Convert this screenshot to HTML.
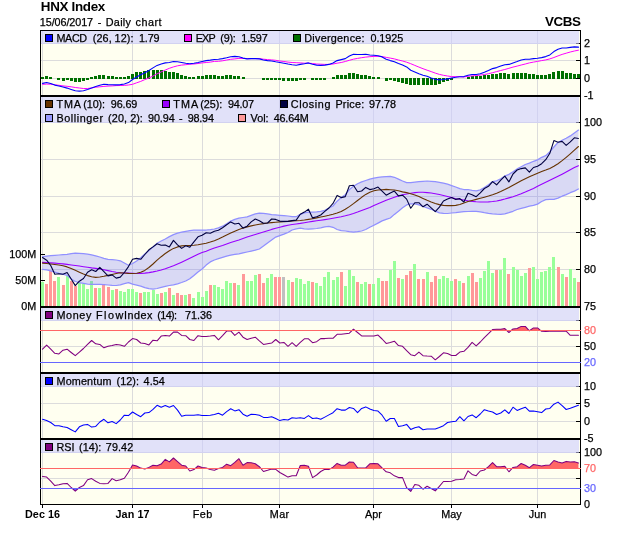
<!DOCTYPE html>
<html><head><meta charset="utf-8"><title>HNX Index</title>
<style>html,body{margin:0;padding:0;background:#fff}svg{display:block;will-change:transform}text{font-family:"Liberation Sans", Arial, sans-serif;stroke-width:0.25px}</style></head><body>
<svg width="620" height="535" viewBox="0 0 620 535">
<rect width="620" height="535" fill="#fff"/>
<g shape-rendering="crispEdges">
<rect x="40" y="30" width="541" height="66" fill="#fffff0"/>
<rect x="41" y="60" width="539" height="1" fill="#dcdcdc"/>
<rect x="41" y="78" width="539" height="1" fill="#dcdcdc"/>
<rect x="41" y="43" width="539" height="1" fill="#dcdcdc"/>
<rect x="42" y="31" width="1" height="64" fill="#dcdcdc"/>
<rect x="132" y="31" width="1" height="64" fill="#dcdcdc"/>
<rect x="202" y="31" width="1" height="64" fill="#dcdcdc"/>
<rect x="279" y="31" width="1" height="64" fill="#dcdcdc"/>
<rect x="373" y="31" width="1" height="64" fill="#dcdcdc"/>
<rect x="451" y="31" width="1" height="64" fill="#dcdcdc"/>
<rect x="537" y="31" width="1" height="64" fill="#dcdcdc"/>
<rect x="40" y="96" width="541" height="211" fill="#fffff0"/>
<rect x="41" y="159" width="539" height="1" fill="#dcdcdc"/>
<rect x="41" y="196" width="539" height="1" fill="#dcdcdc"/>
<rect x="41" y="232" width="539" height="1" fill="#dcdcdc"/>
<rect x="41" y="269" width="539" height="1" fill="#dcdcdc"/>
<rect x="41" y="122" width="539" height="1" fill="#dcdcdc"/>
<rect x="42" y="97" width="1" height="209" fill="#dcdcdc"/>
<rect x="132" y="97" width="1" height="209" fill="#dcdcdc"/>
<rect x="202" y="97" width="1" height="209" fill="#dcdcdc"/>
<rect x="279" y="97" width="1" height="209" fill="#dcdcdc"/>
<rect x="373" y="97" width="1" height="209" fill="#dcdcdc"/>
<rect x="451" y="97" width="1" height="209" fill="#dcdcdc"/>
<rect x="537" y="97" width="1" height="209" fill="#dcdcdc"/>
<rect x="40" y="307" width="541" height="66" fill="#fffff0"/>
<rect x="41" y="346" width="539" height="1" fill="#dcdcdc"/>
<rect x="41" y="320" width="539" height="1" fill="#dcdcdc"/>
<rect x="42" y="308" width="1" height="64" fill="#dcdcdc"/>
<rect x="132" y="308" width="1" height="64" fill="#dcdcdc"/>
<rect x="202" y="308" width="1" height="64" fill="#dcdcdc"/>
<rect x="279" y="308" width="1" height="64" fill="#dcdcdc"/>
<rect x="373" y="308" width="1" height="64" fill="#dcdcdc"/>
<rect x="451" y="308" width="1" height="64" fill="#dcdcdc"/>
<rect x="537" y="308" width="1" height="64" fill="#dcdcdc"/>
<rect x="40" y="373" width="541" height="66" fill="#fffff0"/>
<rect x="41" y="403" width="539" height="1" fill="#dcdcdc"/>
<rect x="41" y="421" width="539" height="1" fill="#dcdcdc"/>
<rect x="41" y="386" width="539" height="1" fill="#dcdcdc"/>
<rect x="42" y="374" width="1" height="64" fill="#dcdcdc"/>
<rect x="132" y="374" width="1" height="64" fill="#dcdcdc"/>
<rect x="202" y="374" width="1" height="64" fill="#dcdcdc"/>
<rect x="279" y="374" width="1" height="64" fill="#dcdcdc"/>
<rect x="373" y="374" width="1" height="64" fill="#dcdcdc"/>
<rect x="451" y="374" width="1" height="64" fill="#dcdcdc"/>
<rect x="537" y="374" width="1" height="64" fill="#dcdcdc"/>
<rect x="40" y="439" width="541" height="66" fill="#fffff0"/>
<rect x="41" y="478" width="539" height="1" fill="#dcdcdc"/>
<rect x="41" y="452" width="539" height="1" fill="#dcdcdc"/>
<rect x="42" y="440" width="1" height="64" fill="#dcdcdc"/>
<rect x="132" y="440" width="1" height="64" fill="#dcdcdc"/>
<rect x="202" y="440" width="1" height="64" fill="#dcdcdc"/>
<rect x="279" y="440" width="1" height="64" fill="#dcdcdc"/>
<rect x="373" y="440" width="1" height="64" fill="#dcdcdc"/>
<rect x="451" y="440" width="1" height="64" fill="#dcdcdc"/>
<rect x="537" y="440" width="1" height="64" fill="#dcdcdc"/>
</g>
<g shape-rendering="crispEdges" fill="#007000">
<rect x="41" y="77" width="3" height="2"/>
<rect x="45" y="76" width="3" height="3"/>
<rect x="49" y="77" width="3" height="2"/>
<rect x="57" y="78" width="3" height="2"/>
<rect x="62" y="78" width="3" height="3"/>
<rect x="66" y="78" width="3" height="2"/>
<rect x="70" y="78" width="3" height="3"/>
<rect x="74" y="78" width="3" height="4"/>
<rect x="78" y="78" width="3" height="4"/>
<rect x="82" y="78" width="3" height="3"/>
<rect x="86" y="78" width="3" height="2"/>
<rect x="90" y="77" width="3" height="2"/>
<rect x="94" y="76" width="3" height="3"/>
<rect x="98" y="75" width="3" height="4"/>
<rect x="102" y="75" width="3" height="4"/>
<rect x="107" y="76" width="3" height="3"/>
<rect x="111" y="76" width="3" height="3"/>
<rect x="115" y="77" width="3" height="2"/>
<rect x="119" y="77" width="3" height="2"/>
<rect x="123" y="77" width="3" height="2"/>
<rect x="127" y="76" width="3" height="3"/>
<rect x="131" y="74" width="3" height="5"/>
<rect x="135" y="72" width="3" height="7"/>
<rect x="139" y="72" width="3" height="7"/>
<rect x="143" y="71" width="3" height="8"/>
<rect x="147" y="70" width="3" height="9"/>
<rect x="152" y="70" width="3" height="9"/>
<rect x="156" y="70" width="3" height="9"/>
<rect x="160" y="70" width="3" height="9"/>
<rect x="164" y="71" width="3" height="8"/>
<rect x="168" y="72" width="3" height="7"/>
<rect x="172" y="72" width="3" height="7"/>
<rect x="176" y="73" width="3" height="6"/>
<rect x="180" y="75" width="3" height="4"/>
<rect x="184" y="76" width="3" height="3"/>
<rect x="188" y="77" width="3" height="2"/>
<rect x="192" y="77" width="3" height="2"/>
<rect x="197" y="76" width="3" height="3"/>
<rect x="201" y="76" width="3" height="3"/>
<rect x="205" y="75" width="3" height="4"/>
<rect x="209" y="75" width="3" height="4"/>
<rect x="213" y="75" width="3" height="4"/>
<rect x="217" y="76" width="3" height="3"/>
<rect x="221" y="76" width="3" height="3"/>
<rect x="225" y="75" width="3" height="4"/>
<rect x="229" y="75" width="3" height="4"/>
<rect x="233" y="76" width="3" height="3"/>
<rect x="237" y="76" width="3" height="3"/>
<rect x="242" y="77" width="3" height="2"/>
<rect x="262" y="78" width="3" height="2"/>
<rect x="266" y="78" width="3" height="2"/>
<rect x="270" y="78" width="3" height="2"/>
<rect x="274" y="78" width="3" height="2"/>
<rect x="278" y="78" width="3" height="2"/>
<rect x="282" y="78" width="3" height="3"/>
<rect x="287" y="78" width="3" height="3"/>
<rect x="291" y="78" width="3" height="3"/>
<rect x="295" y="78" width="3" height="3"/>
<rect x="299" y="78" width="3" height="2"/>
<rect x="303" y="78" width="3" height="2"/>
<rect x="311" y="78" width="3" height="2"/>
<rect x="315" y="78" width="3" height="2"/>
<rect x="319" y="78" width="3" height="2"/>
<rect x="323" y="78" width="3" height="2"/>
<rect x="332" y="77" width="3" height="2"/>
<rect x="336" y="75" width="3" height="4"/>
<rect x="340" y="75" width="3" height="4"/>
<rect x="344" y="75" width="3" height="4"/>
<rect x="348" y="73" width="3" height="6"/>
<rect x="352" y="73" width="3" height="6"/>
<rect x="356" y="74" width="3" height="5"/>
<rect x="360" y="75" width="3" height="4"/>
<rect x="364" y="75" width="3" height="4"/>
<rect x="368" y="76" width="3" height="3"/>
<rect x="372" y="77" width="3" height="2"/>
<rect x="377" y="77" width="3" height="2"/>
<rect x="385" y="78" width="3" height="3"/>
<rect x="389" y="78" width="3" height="2"/>
<rect x="393" y="78" width="3" height="3"/>
<rect x="397" y="78" width="3" height="4"/>
<rect x="401" y="78" width="3" height="5"/>
<rect x="405" y="78" width="3" height="6"/>
<rect x="409" y="78" width="3" height="7"/>
<rect x="413" y="78" width="3" height="7"/>
<rect x="417" y="78" width="3" height="7"/>
<rect x="422" y="78" width="3" height="7"/>
<rect x="426" y="78" width="3" height="7"/>
<rect x="430" y="78" width="3" height="7"/>
<rect x="434" y="78" width="3" height="7"/>
<rect x="438" y="78" width="3" height="6"/>
<rect x="442" y="78" width="3" height="4"/>
<rect x="446" y="78" width="3" height="3"/>
<rect x="450" y="78" width="3" height="2"/>
<rect x="467" y="77" width="3" height="2"/>
<rect x="471" y="76" width="3" height="3"/>
<rect x="475" y="76" width="3" height="3"/>
<rect x="479" y="76" width="3" height="3"/>
<rect x="483" y="75" width="3" height="4"/>
<rect x="487" y="75" width="3" height="4"/>
<rect x="491" y="74" width="3" height="5"/>
<rect x="495" y="74" width="3" height="5"/>
<rect x="499" y="73" width="3" height="6"/>
<rect x="503" y="73" width="3" height="6"/>
<rect x="507" y="74" width="3" height="5"/>
<rect x="512" y="73" width="3" height="6"/>
<rect x="516" y="73" width="3" height="6"/>
<rect x="520" y="73" width="3" height="6"/>
<rect x="524" y="73" width="3" height="6"/>
<rect x="528" y="74" width="3" height="5"/>
<rect x="532" y="74" width="3" height="5"/>
<rect x="536" y="75" width="3" height="4"/>
<rect x="540" y="75" width="3" height="4"/>
<rect x="544" y="75" width="3" height="4"/>
<rect x="548" y="74" width="3" height="5"/>
<rect x="552" y="72" width="3" height="7"/>
<rect x="557" y="71" width="3" height="8"/>
<rect x="561" y="71" width="3" height="8"/>
<rect x="565" y="73" width="3" height="6"/>
<rect x="569" y="73" width="3" height="6"/>
<rect x="573" y="74" width="3" height="5"/>
<rect x="577" y="74" width="3" height="5"/>
</g>
<polyline points="42.55,84.3 46.64,84.1 50.73,84.2 54.82,84.8 58.91,85.3 63,85.9 67.1,86.3 71.19,86.8 75.28,87.5 79.37,88 83.46,88.5 87.55,88.5 91.64,87.9 95.73,87.2 99.82,86.8 103.91,86.4 108,86.1 112.1,85.9 116.19,85.6 120.28,85.5 124.37,85.4 128.46,85 132.55,84.3 136.64,82.8 140.73,81.4 144.82,79.6 148.91,78 153,76 157.1,73.8 161.19,71.9 165.28,70 169.37,68.3 173.46,66.9 177.55,65.8 181.64,65.1 185.73,64.7 189.82,64.2 193.91,64 198,63.5 202.1,62.9 206.19,62.5 210.28,62.1 214.37,61.4 218.46,61.3 222.55,60.8 226.64,60 230.73,59.3 234.82,58.9 238.91,58.4 243,58.4 247.1,58.6 251.19,58.6 255.28,58.6 259.37,58.6 263.46,59.2 267.55,59.6 271.64,59.9 275.73,60.3 279.82,61 283.91,61.5 288,62.1 292.1,62.5 296.19,62.7 300.28,62.9 304.37,63.2 308.46,63.2 312.55,63.5 316.64,64 320.73,64.2 324.82,64.4 328.91,64.4 333,64 337.1,63.2 341.19,62.5 345.28,61.5 349.37,60.3 353.46,59.2 357.55,58.4 361.64,57.7 365.73,57.1 369.82,56.7 373.91,56.4 378,56.3 382.1,56.5 386.19,57.4 390.28,58.1 394.37,58.9 398.46,60 402.55,61 406.64,62.2 410.73,63.7 414.82,65.4 418.91,67.1 423,68.7 427.1,70.2 431.19,71.6 435.28,73.1 439.37,74.4 443.46,75.3 447.55,76 451.64,76.6 455.73,76.7 459.82,76.7 463.91,77 468,76.3 472.1,75.9 476.19,75.6 480.28,75.1 484.37,74.5 488.46,73.7 492.55,72.7 496.64,71.6 500.73,70.5 504.82,69.5 508.91,68.3 513,67.1 517.1,66.1 521.19,65 525.28,64 529.37,62.9 533.46,62.1 537.55,61.4 541.64,60.6 545.73,59.9 549.82,58.9 553.91,57.5 558,55.9 562.1,54.4 566.19,53.2 570.28,52 574.37,51 578.46,50.2" fill="none" stroke="#ff00ff" stroke-width="1.0" stroke-linejoin="round" stroke-linecap="round" />
<polyline points="42.55,83.4 46.64,82.5 50.73,83.5 54.82,85.1 58.91,86 63,87 67.1,88.1 71.19,89.4 75.28,90.8 79.37,91.1 83.46,90.7 87.55,89.4 91.64,87.9 95.73,86.5 99.82,85.3 103.91,84.3 108,84.6 112.1,84.8 116.19,84.9 120.28,84.6 124.37,84 128.46,82.6 132.55,79.5 136.64,77 140.73,74.8 144.82,72.7 148.91,70.5 153,67.9 157.1,65.4 161.19,64 165.28,62.9 169.37,62.5 173.46,61.5 177.55,61.8 181.64,62.5 185.73,63.2 189.82,63.7 193.91,63.2 198,62.5 202.1,61.5 206.19,60.6 210.28,60.1 214.37,59.5 218.46,59.2 222.55,58.6 226.64,57.7 230.73,56.7 234.82,56.4 238.91,56.7 243,58.1 247.1,58.9 251.19,58.6 255.28,58.6 259.37,58.9 263.46,60 267.55,60.6 271.64,61 275.73,61.8 279.82,62.5 283.91,63.2 288,64 292.1,64.7 296.19,65.2 300.28,64.4 304.37,63.7 308.46,62.9 312.55,64.2 316.64,65.1 320.73,65.4 324.82,65.1 328.91,64.4 333,62.9 337.1,60.6 341.19,59.6 345.28,58.6 349.37,56 353.46,54.2 357.55,54.5 361.64,54.5 365.73,54.2 369.82,55 373.91,55.2 378,55.7 382.1,56.9 386.19,59.2 390.28,60.6 394.37,61.8 398.46,63.5 402.55,65 406.64,66.9 410.73,70.2 414.82,71.9 418.91,73.7 423,75.3 427.1,76.3 431.19,78 435.28,79.2 439.37,79.9 443.46,79.5 447.55,78.9 451.64,78 455.73,77.3 459.82,76.7 463.91,76.6 468,75.3 472.1,74.5 476.19,74.5 480.28,73.7 484.37,72.2 488.46,70.5 492.55,68.6 496.64,67.6 500.73,66.1 504.82,64.7 508.91,64.4 513,62.9 517.1,61.5 521.19,60 525.28,59.2 529.37,59.2 533.46,58.6 537.55,58.3 541.64,57.6 545.73,56.6 549.82,54.9 553.91,51.6 558,49.3 562.1,48 566.19,48 570.28,47.4 574.37,46.9 578.46,47.1" fill="none" stroke="#0000ff" stroke-width="1.1" stroke-linejoin="round" stroke-linecap="round" />
<g shape-rendering="crispEdges">
<rect x="41" y="282" width="3" height="24" fill="#99ff99"/>
<rect x="45" y="284" width="3" height="22" fill="#ff9999"/>
<rect x="49" y="271" width="3" height="35" fill="#ff9999"/>
<rect x="53" y="281" width="3" height="25" fill="#ff9999"/>
<rect x="57" y="277" width="3" height="29" fill="#99ff99"/>
<rect x="62" y="285" width="3" height="21" fill="#ff9999"/>
<rect x="66" y="276" width="3" height="30" fill="#99ff99"/>
<rect x="70" y="281" width="3" height="25" fill="#ff9999"/>
<rect x="74" y="286" width="3" height="20" fill="#ff9999"/>
<rect x="78" y="283" width="3" height="23" fill="#99ff99"/>
<rect x="82" y="284" width="3" height="22" fill="#99ff99"/>
<rect x="86" y="289" width="3" height="17" fill="#99ff99"/>
<rect x="90" y="281" width="3" height="25" fill="#99ff99"/>
<rect x="94" y="288" width="3" height="18" fill="#ff9999"/>
<rect x="98" y="288" width="3" height="18" fill="#99ff99"/>
<rect x="102" y="284" width="3" height="22" fill="#ff9999"/>
<rect x="107" y="287" width="3" height="19" fill="#ff9999"/>
<rect x="111" y="290" width="3" height="16" fill="#99ff99"/>
<rect x="115" y="289" width="3" height="17" fill="#ff9999"/>
<rect x="119" y="291" width="3" height="15" fill="#99ff99"/>
<rect x="123" y="292" width="3" height="14" fill="#99ff99"/>
<rect x="127" y="289" width="3" height="17" fill="#99ff99"/>
<rect x="131" y="289" width="3" height="17" fill="#99ff99"/>
<rect x="135" y="292" width="3" height="14" fill="#99ff99"/>
<rect x="139" y="293" width="3" height="13" fill="#ff9999"/>
<rect x="143" y="292" width="3" height="14" fill="#99ff99"/>
<rect x="147" y="292" width="3" height="14" fill="#99ff99"/>
<rect x="152" y="290" width="3" height="16" fill="#99ff99"/>
<rect x="156" y="294" width="3" height="12" fill="#99ff99"/>
<rect x="160" y="293" width="3" height="13" fill="#ff9999"/>
<rect x="164" y="292" width="3" height="14" fill="#99ff99"/>
<rect x="168" y="288" width="3" height="18" fill="#ff9999"/>
<rect x="172" y="295" width="3" height="11" fill="#99ff99"/>
<rect x="176" y="293" width="3" height="13" fill="#ff9999"/>
<rect x="180" y="295" width="3" height="11" fill="#ff9999"/>
<rect x="184" y="295" width="3" height="11" fill="#99ff99"/>
<rect x="188" y="294" width="3" height="12" fill="#ff9999"/>
<rect x="192" y="298" width="3" height="8" fill="#99ff99"/>
<rect x="197" y="292" width="3" height="14" fill="#99ff99"/>
<rect x="201" y="297" width="3" height="9" fill="#99ff99"/>
<rect x="205" y="291" width="3" height="15" fill="#99ff99"/>
<rect x="209" y="285" width="3" height="21" fill="#ff9999"/>
<rect x="213" y="285" width="3" height="21" fill="#99ff99"/>
<rect x="217" y="287" width="3" height="19" fill="#99ff99"/>
<rect x="221" y="289" width="3" height="17" fill="#99ff99"/>
<rect x="225" y="281" width="3" height="25" fill="#99ff99"/>
<rect x="229" y="283" width="3" height="23" fill="#99ff99"/>
<rect x="233" y="283" width="3" height="23" fill="#ff9999"/>
<rect x="237" y="285" width="3" height="21" fill="#99ff99"/>
<rect x="242" y="274" width="3" height="32" fill="#ff9999"/>
<rect x="246" y="281" width="3" height="25" fill="#99ff99"/>
<rect x="250" y="281" width="3" height="25" fill="#99ff99"/>
<rect x="254" y="275" width="3" height="31" fill="#99ff99"/>
<rect x="258" y="274" width="3" height="32" fill="#ff9999"/>
<rect x="262" y="283" width="3" height="23" fill="#ff9999"/>
<rect x="266" y="278" width="3" height="28" fill="#99ff99"/>
<rect x="270" y="274" width="3" height="32" fill="#99ff99"/>
<rect x="274" y="277" width="3" height="29" fill="#ff9999"/>
<rect x="278" y="277" width="3" height="29" fill="#ff9999"/>
<rect x="282" y="277" width="3" height="29" fill="#c0c0c0"/>
<rect x="287" y="280" width="3" height="26" fill="#99ff99"/>
<rect x="291" y="282" width="3" height="24" fill="#ff9999"/>
<rect x="295" y="278" width="3" height="28" fill="#99ff99"/>
<rect x="299" y="279" width="3" height="27" fill="#99ff99"/>
<rect x="303" y="284" width="3" height="22" fill="#99ff99"/>
<rect x="307" y="281" width="3" height="25" fill="#99ff99"/>
<rect x="311" y="282" width="3" height="24" fill="#ff9999"/>
<rect x="315" y="283" width="3" height="23" fill="#99ff99"/>
<rect x="319" y="286" width="3" height="20" fill="#99ff99"/>
<rect x="323" y="277" width="3" height="29" fill="#99ff99"/>
<rect x="327" y="272" width="3" height="34" fill="#99ff99"/>
<rect x="332" y="280" width="3" height="26" fill="#99ff99"/>
<rect x="336" y="277" width="3" height="29" fill="#99ff99"/>
<rect x="340" y="272" width="3" height="34" fill="#ff9999"/>
<rect x="344" y="286" width="3" height="20" fill="#99ff99"/>
<rect x="348" y="270" width="3" height="36" fill="#99ff99"/>
<rect x="352" y="276" width="3" height="30" fill="#99ff99"/>
<rect x="356" y="282" width="3" height="24" fill="#ff9999"/>
<rect x="360" y="284" width="3" height="22" fill="#99ff99"/>
<rect x="364" y="282" width="3" height="24" fill="#99ff99"/>
<rect x="368" y="284" width="3" height="22" fill="#ff9999"/>
<rect x="372" y="284" width="3" height="22" fill="#99ff99"/>
<rect x="377" y="278" width="3" height="28" fill="#99ff99"/>
<rect x="381" y="281" width="3" height="25" fill="#ff9999"/>
<rect x="385" y="281" width="3" height="25" fill="#ff9999"/>
<rect x="389" y="270" width="3" height="36" fill="#99ff99"/>
<rect x="393" y="261" width="3" height="45" fill="#99ff99"/>
<rect x="397" y="278" width="3" height="28" fill="#ff9999"/>
<rect x="401" y="279" width="3" height="27" fill="#99ff99"/>
<rect x="405" y="275" width="3" height="31" fill="#ff9999"/>
<rect x="409" y="271" width="3" height="35" fill="#ff9999"/>
<rect x="413" y="264" width="3" height="42" fill="#99ff99"/>
<rect x="417" y="279" width="3" height="27" fill="#ff9999"/>
<rect x="422" y="279" width="3" height="27" fill="#ff9999"/>
<rect x="426" y="272" width="3" height="34" fill="#99ff99"/>
<rect x="430" y="282" width="3" height="24" fill="#ff9999"/>
<rect x="434" y="276" width="3" height="30" fill="#ff9999"/>
<rect x="438" y="279" width="3" height="27" fill="#99ff99"/>
<rect x="442" y="276" width="3" height="30" fill="#99ff99"/>
<rect x="446" y="278" width="3" height="28" fill="#99ff99"/>
<rect x="450" y="281" width="3" height="25" fill="#99ff99"/>
<rect x="454" y="279" width="3" height="27" fill="#ff9999"/>
<rect x="458" y="281" width="3" height="25" fill="#99ff99"/>
<rect x="462" y="283" width="3" height="23" fill="#ff9999"/>
<rect x="467" y="276" width="3" height="30" fill="#99ff99"/>
<rect x="471" y="273" width="3" height="33" fill="#ff9999"/>
<rect x="475" y="282" width="3" height="24" fill="#ff9999"/>
<rect x="479" y="278" width="3" height="28" fill="#99ff99"/>
<rect x="483" y="271" width="3" height="35" fill="#99ff99"/>
<rect x="487" y="261" width="3" height="45" fill="#99ff99"/>
<rect x="491" y="273" width="3" height="33" fill="#99ff99"/>
<rect x="495" y="270" width="3" height="36" fill="#ff9999"/>
<rect x="499" y="270" width="3" height="36" fill="#99ff99"/>
<rect x="503" y="258" width="3" height="48" fill="#99ff99"/>
<rect x="507" y="274" width="3" height="32" fill="#ff9999"/>
<rect x="512" y="267" width="3" height="39" fill="#99ff99"/>
<rect x="516" y="270" width="3" height="36" fill="#99ff99"/>
<rect x="520" y="276" width="3" height="30" fill="#99ff99"/>
<rect x="524" y="273" width="3" height="33" fill="#99ff99"/>
<rect x="528" y="268" width="3" height="38" fill="#ff9999"/>
<rect x="532" y="267" width="3" height="39" fill="#99ff99"/>
<rect x="536" y="279" width="3" height="27" fill="#99ff99"/>
<rect x="540" y="272" width="3" height="34" fill="#99ff99"/>
<rect x="544" y="271" width="3" height="35" fill="#99ff99"/>
<rect x="548" y="267" width="3" height="39" fill="#99ff99"/>
<rect x="552" y="257" width="3" height="49" fill="#99ff99"/>
<rect x="557" y="267" width="3" height="39" fill="#ff9999"/>
<rect x="561" y="274" width="3" height="32" fill="#99ff99"/>
<rect x="565" y="277" width="3" height="29" fill="#ff9999"/>
<rect x="569" y="269" width="3" height="37" fill="#99ff99"/>
<rect x="573" y="278" width="3" height="28" fill="#99ff99"/>
<rect x="577" y="282" width="3" height="24" fill="#ff9999"/>
</g>
<polygon points="42.55,256.6 46.64,256.12 50.73,255.68 54.82,255.3 58.91,255 63,254.74 67.1,254.4 71.19,253.64 75.28,253.1 79.37,253.3 83.46,253.7 87.55,254.16 91.64,254.8 95.73,255.8 99.82,257 103.91,258.37 108,259.4 112.1,259.71 116.19,260 120.28,260.8 124.37,263 128.46,265.3 132.55,263.5 136.64,261 140.73,257.7 144.82,253.9 148.91,250.6 153,247 157.1,243.3 161.19,240.99 165.28,239 169.37,236.65 173.46,234.6 177.55,233.18 181.64,232.1 185.73,231.29 189.82,230.7 193.91,230.23 198,230 202.1,230 206.19,230 210.28,229.68 214.37,229 218.46,227.87 222.55,226.2 226.64,223.66 230.73,221.1 234.82,219.42 238.91,218.2 243,217.5 247.1,216.8 251.19,215.36 255.28,213.9 259.37,213.1 263.46,213.4 267.55,213.99 271.64,214.6 275.73,214.97 279.82,215.3 283.91,215.62 288,216 292.1,216.6 296.19,216.7 300.28,214.3 304.37,212.8 308.46,212.1 312.55,212.1 316.64,211.8 320.73,211.4 324.82,210.4 328.91,208 333,206 337.1,201.2 341.19,197.6 345.28,194.7 349.37,189.6 353.46,186.3 357.55,183.8 361.64,181.9 365.73,180.5 369.82,179.2 373.91,178.2 378,177.4 382.1,176.95 386.19,176.6 390.28,176.3 394.37,177.3 398.46,179.1 402.55,181 406.64,182.7 410.73,182.7 414.82,182.1 418.91,181.7 423,181.3 427.1,181 431.19,181.3 435.28,181.7 439.37,182.4 443.46,183.1 447.55,184.2 451.64,185.6 455.73,187 459.82,188.7 463.91,189.5 468,189.5 472.1,190.4 476.19,190.9 480.28,189.9 484.37,187.5 488.46,184.8 492.55,181.6 496.64,180.8 500.73,178.7 504.82,176.1 508.91,174.4 513,171.8 517.1,168.9 521.19,166.7 525.28,164.5 529.37,163.1 533.46,161.3 537.55,159.9 541.64,157.3 545.73,155.7 549.82,151.7 553.91,147 558,142.5 562.1,140.3 566.19,138.3 570.28,135.9 574.37,133 578.46,130.1 578.46,189 574.37,191.1 570.28,192.7 566.19,194.6 562.1,196.2 558,198.1 553.91,199.4 549.82,199.4 545.73,199.6 541.64,201.5 537.55,204.1 533.46,205.4 529.37,206.2 525.28,207.3 521.19,208.4 517.1,209.5 513,211.3 508.91,212.7 504.82,213.9 500.73,214.3 496.64,214.14 492.55,213.8 488.46,213.29 484.37,212.6 480.28,211.8 476.19,211.3 472.1,211.36 468,211.5 463.91,211.74 459.82,212.1 455.73,212.6 451.64,213 447.55,213.5 443.46,213.4 439.37,212.9 435.28,211.2 431.19,209.3 427.1,207.8 423,206.4 418.91,204.9 414.82,203.9 410.73,203.9 406.64,204.9 402.55,207.8 398.46,211.2 394.37,214.4 390.28,218 386.19,219.4 382.1,220.9 378,223.1 373.91,225.2 369.82,227.3 365.73,229.5 361.64,231 357.55,231.7 353.46,232.1 349.37,231.7 345.28,231 341.19,230.7 337.1,229.5 333,227.3 328.91,226.3 324.82,226.9 320.73,227.8 316.64,228.5 312.55,228.8 308.46,229.2 304.37,228.8 300.28,228.1 296.19,228.8 292.1,230 288,232.5 283.91,234.2 279.82,235.6 275.73,237.1 271.64,240 267.55,242.9 263.46,246.1 259.37,249 255.28,250.2 251.19,251.14 247.1,252 243,252.93 238.91,253.8 234.82,254.48 230.73,255.2 226.64,256.22 222.55,257.4 218.46,258.6 214.37,260 210.28,261.9 206.19,265.1 202.1,269 198,272 193.91,275.5 189.82,278.8 185.73,281 181.64,282.5 177.55,283.8 173.46,284.8 169.37,285.5 165.28,286.4 161.19,287.4 157.1,288.5 153,289.1 148.91,288.7 144.82,287.7 140.73,286.1 136.64,285.1 132.55,284.2 128.46,282.7 124.37,283.6 120.28,284.8 116.19,285.5 112.1,285.32 108,285 103.91,284.63 99.82,284.4 95.73,284.4 91.64,284.4 87.55,284.06 83.46,283.4 79.37,282.65 75.28,281.5 71.19,279 67.1,275.4 63,274.27 58.91,273.4 54.82,272.04 50.73,270.8 46.64,269.97 42.55,269.4" fill="#6666ff" fill-opacity="0.25"/>
<polyline points="42.55,256.6 46.64,256.12 50.73,255.68 54.82,255.3 58.91,255 63,254.74 67.1,254.4 71.19,253.64 75.28,253.1 79.37,253.3 83.46,253.7 87.55,254.16 91.64,254.8 95.73,255.8 99.82,257 103.91,258.37 108,259.4 112.1,259.71 116.19,260 120.28,260.8 124.37,263 128.46,265.3 132.55,263.5 136.64,261 140.73,257.7 144.82,253.9 148.91,250.6 153,247 157.1,243.3 161.19,240.99 165.28,239 169.37,236.65 173.46,234.6 177.55,233.18 181.64,232.1 185.73,231.29 189.82,230.7 193.91,230.23 198,230 202.1,230 206.19,230 210.28,229.68 214.37,229 218.46,227.87 222.55,226.2 226.64,223.66 230.73,221.1 234.82,219.42 238.91,218.2 243,217.5 247.1,216.8 251.19,215.36 255.28,213.9 259.37,213.1 263.46,213.4 267.55,213.99 271.64,214.6 275.73,214.97 279.82,215.3 283.91,215.62 288,216 292.1,216.6 296.19,216.7 300.28,214.3 304.37,212.8 308.46,212.1 312.55,212.1 316.64,211.8 320.73,211.4 324.82,210.4 328.91,208 333,206 337.1,201.2 341.19,197.6 345.28,194.7 349.37,189.6 353.46,186.3 357.55,183.8 361.64,181.9 365.73,180.5 369.82,179.2 373.91,178.2 378,177.4 382.1,176.95 386.19,176.6 390.28,176.3 394.37,177.3 398.46,179.1 402.55,181 406.64,182.7 410.73,182.7 414.82,182.1 418.91,181.7 423,181.3 427.1,181 431.19,181.3 435.28,181.7 439.37,182.4 443.46,183.1 447.55,184.2 451.64,185.6 455.73,187 459.82,188.7 463.91,189.5 468,189.5 472.1,190.4 476.19,190.9 480.28,189.9 484.37,187.5 488.46,184.8 492.55,181.6 496.64,180.8 500.73,178.7 504.82,176.1 508.91,174.4 513,171.8 517.1,168.9 521.19,166.7 525.28,164.5 529.37,163.1 533.46,161.3 537.55,159.9 541.64,157.3 545.73,155.7 549.82,151.7 553.91,147 558,142.5 562.1,140.3 566.19,138.3 570.28,135.9 574.37,133 578.46,130.1" fill="none" stroke="#9090ff" stroke-width="1.25" stroke-linejoin="round" stroke-linecap="round" />
<polyline points="42.55,269.4 46.64,269.97 50.73,270.8 54.82,272.04 58.91,273.4 63,274.27 67.1,275.4 71.19,279 75.28,281.5 79.37,282.65 83.46,283.4 87.55,284.06 91.64,284.4 95.73,284.4 99.82,284.4 103.91,284.63 108,285 112.1,285.32 116.19,285.5 120.28,284.8 124.37,283.6 128.46,282.7 132.55,284.2 136.64,285.1 140.73,286.1 144.82,287.7 148.91,288.7 153,289.1 157.1,288.5 161.19,287.4 165.28,286.4 169.37,285.5 173.46,284.8 177.55,283.8 181.64,282.5 185.73,281 189.82,278.8 193.91,275.5 198,272 202.1,269 206.19,265.1 210.28,261.9 214.37,260 218.46,258.6 222.55,257.4 226.64,256.22 230.73,255.2 234.82,254.48 238.91,253.8 243,252.93 247.1,252 251.19,251.14 255.28,250.2 259.37,249 263.46,246.1 267.55,242.9 271.64,240 275.73,237.1 279.82,235.6 283.91,234.2 288,232.5 292.1,230 296.19,228.8 300.28,228.1 304.37,228.8 308.46,229.2 312.55,228.8 316.64,228.5 320.73,227.8 324.82,226.9 328.91,226.3 333,227.3 337.1,229.5 341.19,230.7 345.28,231 349.37,231.7 353.46,232.1 357.55,231.7 361.64,231 365.73,229.5 369.82,227.3 373.91,225.2 378,223.1 382.1,220.9 386.19,219.4 390.28,218 394.37,214.4 398.46,211.2 402.55,207.8 406.64,204.9 410.73,203.9 414.82,203.9 418.91,204.9 423,206.4 427.1,207.8 431.19,209.3 435.28,211.2 439.37,212.9 443.46,213.4 447.55,213.5 451.64,213 455.73,212.6 459.82,212.1 463.91,211.74 468,211.5 472.1,211.36 476.19,211.3 480.28,211.8 484.37,212.6 488.46,213.29 492.55,213.8 496.64,214.14 500.73,214.3 504.82,213.9 508.91,212.7 513,211.3 517.1,209.5 521.19,208.4 525.28,207.3 529.37,206.2 533.46,205.4 537.55,204.1 541.64,201.5 545.73,199.6 549.82,199.4 553.91,199.4 558,198.1 562.1,196.2 566.19,194.6 570.28,192.7 574.37,191.1 578.46,189" fill="none" stroke="#9090ff" stroke-width="1.25" stroke-linejoin="round" stroke-linecap="round" />
<polyline points="42.55,262.4 46.64,262.6 50.73,262.85 54.82,263.16 58.91,263.5 63,263.91 67.1,264.4 71.19,264.95 75.28,265.5 79.37,266.08 83.46,266.7 87.55,267.32 91.64,267.9 95.73,268.38 99.82,268.9 103.91,269.7 108,270.6 112.1,271.47 116.19,272.2 120.28,272.7 124.37,273 128.46,273.1 132.55,273.33 136.64,273.5 140.73,273.38 144.82,273.1 148.91,272.61 153,271.9 157.1,271.04 161.19,270 165.28,268.74 169.37,267.3 173.46,265.71 177.55,264 181.64,262.19 185.73,260.3 189.82,258.32 193.91,256.3 198,254.3 202.1,252.5 206.19,251.2 210.28,249.6 214.37,248 218.46,246.73 222.55,245.5 226.64,244.06 230.73,242.6 234.82,241.3 238.91,240 243,238.55 247.1,237.1 251.19,235.78 255.28,234.5 259.37,233.25 263.46,232 267.55,230.68 271.64,229.4 275.73,228.26 279.82,227.2 283.91,226.14 288,225.2 292.1,224.5 296.19,223.95 300.28,223.4 304.37,222.71 308.46,222 312.55,221.39 316.64,220.8 320.73,220.21 324.82,219.6 328.91,218.97 333,218.3 337.1,217.54 341.19,216.7 345.28,215.76 349.37,214.7 353.46,213.48 357.55,212.1 361.64,210.51 365.73,208.9 369.82,207.5 373.91,205.5 378,203.8 382.1,202.03 386.19,200.3 390.28,198.68 394.37,197.2 398.46,195.89 402.55,194.8 406.64,193.97 410.73,193.3 414.82,192.65 418.91,192.3 423,192.3 427.1,192.6 431.19,193.07 435.28,193.7 439.37,194.53 443.46,195.5 447.55,196.52 451.64,197.6 455.73,198.7 459.82,199.3 463.91,200.06 468,200.8 472.1,201.41 476.19,201.8 480.28,201.94 484.37,202 488.46,201.84 492.55,201.5 496.64,200.92 500.73,200.1 504.82,199.08 508.91,197.9 513,196.66 517.1,195.3 521.19,193.77 525.28,192.1 529.37,190.32 533.46,188.4 537.55,186.3 541.64,184.3 545.73,182.3 549.82,180.3 553.91,178.32 558,176.3 562.1,174.18 566.19,172 570.28,169.76 574.37,167.6 578.46,165.7" fill="none" stroke="#9900ff" stroke-width="1.1" stroke-linejoin="round" stroke-linecap="round" />
<polyline points="42.55,263.1 46.64,263.54 50.73,264 54.82,264.45 58.91,265 63,265.81 67.1,266.9 71.19,268.46 75.28,270.3 79.37,272.17 83.46,274 87.55,275.6 91.64,276.8 95.73,277.4 99.82,277 103.91,276.3 108,275.4 112.1,274.42 116.19,273.5 120.28,272.8 124.37,273 128.46,273.4 132.55,273.5 136.64,273.3 140.73,272.3 144.82,270.4 148.91,267.5 153,264 157.1,260.2 161.19,256.7 165.28,253.5 169.37,250.8 173.46,248.4 177.55,246.9 181.64,245.9 185.73,245.5 189.82,245.5 193.91,245.2 198,244.8 202.1,244 206.19,243.2 210.28,242 214.37,240.7 218.46,239.01 222.55,237.1 226.64,235.04 230.73,233 234.82,231.15 238.91,229.5 243,228.1 247.1,226.9 251.19,225.88 255.28,225 259.37,224.24 263.46,223.6 267.55,223.06 271.64,222.6 275.73,222.22 279.82,221.9 283.91,221.66 288,221.4 292.1,221 296.19,220.76 300.28,220.5 304.37,220.02 308.46,219.4 312.55,218.69 316.64,217.9 320.73,217.08 324.82,216.2 328.91,215.31 333,214.3 337.1,213.01 341.19,211.4 345.28,209.22 349.37,206.6 353.46,203.64 357.55,200.5 361.64,197.32 365.73,194.4 369.82,192.2 373.91,190.8 378,190 382.1,189.7 386.19,189.4 390.28,189.7 394.37,190 398.46,190.8 402.55,191.9 406.64,192.6 410.73,193.7 414.82,195 418.91,196.6 423,198.4 427.1,200.3 431.19,202 435.28,203.5 439.37,204.6 443.46,205.4 447.55,205.6 451.64,205.6 455.73,205.4 459.82,204.5 463.91,203.04 468,201.5 472.1,200.41 476.19,199.4 480.28,198.32 484.37,197.2 488.46,196.01 492.55,194.7 496.64,193.14 500.73,191.4 504.82,189.52 508.91,187.5 513,185.33 517.1,183.1 521.19,180.85 525.28,178.7 529.37,176.79 533.46,175 537.55,173.27 541.64,171.6 545.73,170.06 549.82,168.4 553.91,166.25 558,163.7 562.1,160.66 566.19,157.3 570.28,153.82 574.37,150.2 578.46,146.5" fill="none" stroke="#663300" stroke-width="1.1" stroke-linejoin="round" stroke-linecap="round" />
<polyline points="42.55,257.5 46.64,260.2 50.73,265.5 54.82,274.2 58.91,273.7 63,274.2 67.1,272.5 71.19,279 75.28,285.6 79.37,281.2 83.46,278.5 87.55,272.3 91.64,269.8 95.73,271.5 99.82,267.4 103.91,271.6 108,275.9 112.1,274.9 116.19,278.1 120.28,277.1 124.37,272.5 128.46,266.6 132.55,259.3 136.64,258.4 140.73,259.3 144.82,254.5 148.91,249.8 153,246.9 157.1,243.7 161.19,245.2 165.28,245 169.37,246.9 173.46,240.4 177.55,244.8 181.64,248.4 185.73,245.8 189.82,247.2 193.91,241.9 198,236.8 202.1,235.3 206.19,232.7 210.28,233.3 214.37,231.2 218.46,230.3 222.55,227.7 226.64,224.8 230.73,221.9 234.82,224 238.91,223.3 243,228.1 247.1,226.2 251.19,221.9 255.28,219 259.37,220.8 263.46,223.3 267.55,223 271.64,219 275.73,219.4 279.82,221.1 283.91,221.4 288,221.4 292.1,220.6 296.19,220.1 300.28,214.3 304.37,212.1 308.46,209.2 312.55,217.9 316.64,216.7 320.73,215 324.82,211.4 328.91,208 333,203.4 337.1,195.4 341.19,197.6 345.28,196.6 349.37,185.7 353.46,185.2 357.55,191.8 361.64,191 365.73,187.4 369.82,189.6 373.91,188.8 378,187.1 382.1,191.1 386.19,195.2 390.28,192.9 394.37,191.1 398.46,195.9 402.55,195.2 406.64,199.1 410.73,208.3 414.82,202.7 418.91,202.7 423,206.8 427.1,204.2 431.19,207.8 435.28,211.7 439.37,207.1 443.46,201 447.55,199.1 451.64,197.5 455.73,199.4 459.82,198.6 463.91,202 468,193.3 472.1,194.7 476.19,196.7 480.28,192.8 484.37,188.5 488.46,186.3 492.55,181.6 496.64,184.8 500.73,180.2 504.82,176.1 508.91,181.9 513,174 517.1,170 521.19,168.6 525.28,167.9 529.37,172.1 533.46,167.5 537.55,166.2 541.64,163.7 545.73,159.7 549.82,153.3 553.91,140.6 558,142.2 562.1,141.4 566.19,145.4 570.28,141.9 574.37,137.8 578.46,138.5" fill="none" stroke="#000040" stroke-width="1.1" stroke-linejoin="round" stroke-linecap="round" />
<clipPath id="c308a"><rect x="40" y="308" width="541" height="22.5"/></clipPath>
<clipPath id="c308b"><rect x="40" y="362.5" width="541" height="9.5"/></clipPath>
<polygon points="42.55,349.2 46.64,345.1 50.73,349.2 54.82,353.3 58.91,353.9 63,350.2 67.1,349.2 71.19,352.5 75.28,355.7 79.37,352.1 83.46,348.5 87.55,344.4 91.64,340.5 95.73,343.8 99.82,344.4 103.91,347.8 108,346.3 112.1,345.6 116.19,344.4 120.28,345.1 124.37,346.3 128.46,342 132.55,338.6 136.64,339.5 140.73,343 144.82,343.4 148.91,344.9 153,340.2 157.1,340.8 161.19,336.1 165.28,335.4 169.37,336.1 173.46,332.1 177.55,332.1 181.64,335.4 185.73,335.7 189.82,339.5 193.91,340.5 198,335.7 202.1,336.6 206.19,336.4 210.28,336 214.37,335.4 218.46,339.8 222.55,335.7 226.64,331.1 230.73,330.8 234.82,335.4 238.91,332.2 243,337.2 247.1,339.5 251.19,338.3 255.28,337.2 259.37,340.9 263.46,344.4 267.55,343.7 271.64,343.1 275.73,339.5 279.82,343 283.91,342.4 288,346.3 292.1,342.7 296.19,346.4 300.28,342.4 304.37,338.8 308.46,338.8 312.55,342.7 316.64,341.7 320.73,338.6 324.82,338.6 328.91,338.3 333,338.3 337.1,334.3 341.19,334.3 345.28,333.7 349.37,333.2 353.46,329.2 357.55,332.5 361.64,335.9 365.73,335.9 369.82,335.9 373.91,335.9 378,335.1 382.1,339 386.19,343.4 390.28,342.4 394.37,341.2 398.46,345.6 402.55,346.3 406.64,350.7 410.73,354.7 414.82,355.7 418.91,352.1 423,355.7 427.1,356 431.19,356.2 435.28,359.8 439.37,356.5 443.46,352.8 447.55,353.6 451.64,355.5 455.73,355.5 459.82,352.1 463.91,351.3 468,347.4 472.1,342.4 476.19,345.9 480.28,342 484.37,337.6 488.46,333.7 492.55,329.6 496.64,329.3 500.73,329.2 504.82,328.6 508.91,332.5 513,328.9 517.1,328.5 521.19,326.4 525.28,326.4 529.37,330.8 533.46,327.9 537.55,327.9 541.64,331.3 545.73,331.4 549.82,331.3 553.91,331.2 558,331.2 562.1,331.2 566.19,331.2 570.28,335.3 574.37,335.3 578.46,335.3 578.46,330.5 42.55,330.5" fill="#ff6666" clip-path="url(#c308a)"/>
<polygon points="42.55,349.2 46.64,345.1 50.73,349.2 54.82,353.3 58.91,353.9 63,350.2 67.1,349.2 71.19,352.5 75.28,355.7 79.37,352.1 83.46,348.5 87.55,344.4 91.64,340.5 95.73,343.8 99.82,344.4 103.91,347.8 108,346.3 112.1,345.6 116.19,344.4 120.28,345.1 124.37,346.3 128.46,342 132.55,338.6 136.64,339.5 140.73,343 144.82,343.4 148.91,344.9 153,340.2 157.1,340.8 161.19,336.1 165.28,335.4 169.37,336.1 173.46,332.1 177.55,332.1 181.64,335.4 185.73,335.7 189.82,339.5 193.91,340.5 198,335.7 202.1,336.6 206.19,336.4 210.28,336 214.37,335.4 218.46,339.8 222.55,335.7 226.64,331.1 230.73,330.8 234.82,335.4 238.91,332.2 243,337.2 247.1,339.5 251.19,338.3 255.28,337.2 259.37,340.9 263.46,344.4 267.55,343.7 271.64,343.1 275.73,339.5 279.82,343 283.91,342.4 288,346.3 292.1,342.7 296.19,346.4 300.28,342.4 304.37,338.8 308.46,338.8 312.55,342.7 316.64,341.7 320.73,338.6 324.82,338.6 328.91,338.3 333,338.3 337.1,334.3 341.19,334.3 345.28,333.7 349.37,333.2 353.46,329.2 357.55,332.5 361.64,335.9 365.73,335.9 369.82,335.9 373.91,335.9 378,335.1 382.1,339 386.19,343.4 390.28,342.4 394.37,341.2 398.46,345.6 402.55,346.3 406.64,350.7 410.73,354.7 414.82,355.7 418.91,352.1 423,355.7 427.1,356 431.19,356.2 435.28,359.8 439.37,356.5 443.46,352.8 447.55,353.6 451.64,355.5 455.73,355.5 459.82,352.1 463.91,351.3 468,347.4 472.1,342.4 476.19,345.9 480.28,342 484.37,337.6 488.46,333.7 492.55,329.6 496.64,329.3 500.73,329.2 504.82,328.6 508.91,332.5 513,328.9 517.1,328.5 521.19,326.4 525.28,326.4 529.37,330.8 533.46,327.9 537.55,327.9 541.64,331.3 545.73,331.4 549.82,331.3 553.91,331.2 558,331.2 562.1,331.2 566.19,331.2 570.28,335.3 574.37,335.3 578.46,335.3 578.46,362.5 42.55,362.5" fill="#6666ff" clip-path="url(#c308b)"/>
<polyline points="42.55,349.2 46.64,345.1 50.73,349.2 54.82,353.3 58.91,353.9 63,350.2 67.1,349.2 71.19,352.5 75.28,355.7 79.37,352.1 83.46,348.5 87.55,344.4 91.64,340.5 95.73,343.8 99.82,344.4 103.91,347.8 108,346.3 112.1,345.6 116.19,344.4 120.28,345.1 124.37,346.3 128.46,342 132.55,338.6 136.64,339.5 140.73,343 144.82,343.4 148.91,344.9 153,340.2 157.1,340.8 161.19,336.1 165.28,335.4 169.37,336.1 173.46,332.1 177.55,332.1 181.64,335.4 185.73,335.7 189.82,339.5 193.91,340.5 198,335.7 202.1,336.6 206.19,336.4 210.28,336 214.37,335.4 218.46,339.8 222.55,335.7 226.64,331.1 230.73,330.8 234.82,335.4 238.91,332.2 243,337.2 247.1,339.5 251.19,338.3 255.28,337.2 259.37,340.9 263.46,344.4 267.55,343.7 271.64,343.1 275.73,339.5 279.82,343 283.91,342.4 288,346.3 292.1,342.7 296.19,346.4 300.28,342.4 304.37,338.8 308.46,338.8 312.55,342.7 316.64,341.7 320.73,338.6 324.82,338.6 328.91,338.3 333,338.3 337.1,334.3 341.19,334.3 345.28,333.7 349.37,333.2 353.46,329.2 357.55,332.5 361.64,335.9 365.73,335.9 369.82,335.9 373.91,335.9 378,335.1 382.1,339 386.19,343.4 390.28,342.4 394.37,341.2 398.46,345.6 402.55,346.3 406.64,350.7 410.73,354.7 414.82,355.7 418.91,352.1 423,355.7 427.1,356 431.19,356.2 435.28,359.8 439.37,356.5 443.46,352.8 447.55,353.6 451.64,355.5 455.73,355.5 459.82,352.1 463.91,351.3 468,347.4 472.1,342.4 476.19,345.9 480.28,342 484.37,337.6 488.46,333.7 492.55,329.6 496.64,329.3 500.73,329.2 504.82,328.6 508.91,332.5 513,328.9 517.1,328.5 521.19,326.4 525.28,326.4 529.37,330.8 533.46,327.9 537.55,327.9 541.64,331.3 545.73,331.4 549.82,331.3 553.91,331.2 558,331.2 562.1,331.2 566.19,331.2 570.28,335.3 574.37,335.3 578.46,335.3" fill="none" stroke="#800080" stroke-width="1.05" stroke-linejoin="round" stroke-linecap="round" />
<polyline points="42.55,419.3 46.64,420.6 50.73,422.5 54.82,425.7 58.91,425.8 63,426.8 67.1,427.5 71.19,429.7 75.28,431.9 79.37,426.8 83.46,425.1 87.55,424.4 91.64,427.1 95.73,426.4 99.82,422 103.91,419.3 108,422.8 112.1,421.5 116.19,423.6 120.28,420 124.37,415.2 128.46,415.6 132.55,412 136.64,414.5 140.73,416.7 144.82,413 148.91,412.6 153,409.4 157.1,405.3 161.19,407.2 165.28,405.5 169.37,407.2 173.46,405.5 177.55,410.1 181.64,416.2 185.73,415.2 189.82,415.2 193.91,415.2 198,414.8 202.1,415.5 206.19,415.6 210.28,415.2 214.37,414.5 218.46,413.3 222.55,415.2 226.64,411.6 230.73,408.7 234.82,410.9 238.91,409.7 243,414.2 247.1,416.2 251.19,414.2 255.28,414.5 259.37,415.2 263.46,417.4 267.55,417.4 271.64,416.7 275.73,418.5 279.82,420.6 283.91,419.6 288,420 292.1,417.7 296.19,418.3 300.28,417.7 304.37,418.4 308.46,415.6 312.55,418.5 316.64,418.1 320.73,419.3 324.82,417.1 328.91,414.9 333,412.7 337.1,408.7 341.19,410.1 345.28,410.1 349.37,407.5 353.46,408.4 357.55,412.6 361.64,408.4 365.73,406.9 369.82,409 373.91,410.6 378,411.1 382.1,415.2 386.19,421.3 390.28,418.5 394.37,418.5 398.46,426.4 402.55,425.7 406.64,424.4 410.73,429.4 414.82,427.8 418.91,426.8 423,429.7 427.1,429 431.19,429 435.28,429 439.37,427.5 443.46,425.7 447.55,422.5 451.64,421.7 455.73,421.3 459.82,416.7 463.91,420.8 468,416.5 472.1,414.9 476.19,417.7 480.28,414 484.37,409.7 488.46,411.1 492.55,412 496.64,414.5 500.73,413 504.82,409.8 508.91,413.5 513,407.2 517.1,410.4 521.19,408.7 525.28,407.2 529.37,411.1 533.46,411.1 537.55,411.7 541.64,412.6 545.73,409 549.82,408.4 553.91,404.2 558,402.1 562.1,405.6 566.19,409.5 570.28,408.3 574.37,406.8 578.46,405.3" fill="none" stroke="#0000ff" stroke-width="1.05" stroke-linejoin="round" stroke-linecap="round" />
<clipPath id="c440a"><rect x="40" y="440" width="541" height="28.5"/></clipPath>
<clipPath id="c440b"><rect x="40" y="488.5" width="541" height="15.5"/></clipPath>
<polygon points="42.55,476.4 46.64,477.1 50.73,481.2 54.82,485.6 58.91,484.8 63,483.8 67.1,483.4 71.19,487.5 75.28,491.1 79.37,487.5 83.46,485.6 87.55,479.8 91.64,478.6 95.73,481.2 99.82,483.4 103.91,483.7 108,483.4 112.1,478.6 116.19,480.8 120.28,479.8 124.37,478.2 128.46,472.2 132.55,465 136.64,466 140.73,468.1 144.82,468.9 148.91,467.4 153,465.2 157.1,465.7 161.19,464.1 165.28,459.4 169.37,461.9 173.46,458 177.55,461.6 181.64,465.2 185.73,466 189.82,471 193.91,469.6 198,466 202.1,467.4 206.19,468.1 210.28,469.6 214.37,470.3 218.46,468.6 222.55,467.4 226.64,464.2 230.73,465.7 234.82,462.3 238.91,458.7 243,465.2 247.1,462.6 251.19,462.8 255.28,463.8 259.37,466.7 263.46,471.5 267.55,470.3 271.64,468.9 275.73,469.3 279.82,472.5 283.91,474.7 288,477.1 292.1,475.7 296.19,475.8 300.28,465.5 304.37,465.2 308.46,466.3 312.55,477.6 316.64,475 320.73,471.5 324.82,469.3 328.91,469.6 333,467.1 337.1,463.4 341.19,465.2 345.28,465.2 349.37,462 353.46,462.3 357.55,467.7 361.64,468.1 365.73,467.9 369.82,463.8 373.91,463.5 378,463.8 382.1,467.9 386.19,471.8 390.28,472.8 394.37,475.8 398.46,477.6 402.55,477.6 406.64,487.7 410.73,491.4 414.82,484.5 418.91,485.3 423,489.2 427.1,486.3 431.19,488.5 435.28,490.9 439.37,486.3 443.46,481.5 447.55,481.5 451.64,481.2 455.73,479.8 459.82,479.5 463.91,478.9 468,470.8 472.1,474.4 476.19,475.7 480.28,471 484.37,470 488.46,466.7 492.55,462.6 496.64,466.7 500.73,466.7 504.82,466.3 508.91,471.8 513,467.4 517.1,466.7 521.19,463.5 525.28,465.2 529.37,467.7 533.46,464.5 537.55,465.2 541.64,466 545.73,465.3 549.82,464.9 553.91,460.5 558,462 562.1,463 566.19,461.4 570.28,462 574.37,461.7 578.46,463 578.46,468.5 42.55,468.5" fill="#ff6666" clip-path="url(#c440a)"/>
<polygon points="42.55,476.4 46.64,477.1 50.73,481.2 54.82,485.6 58.91,484.8 63,483.8 67.1,483.4 71.19,487.5 75.28,491.1 79.37,487.5 83.46,485.6 87.55,479.8 91.64,478.6 95.73,481.2 99.82,483.4 103.91,483.7 108,483.4 112.1,478.6 116.19,480.8 120.28,479.8 124.37,478.2 128.46,472.2 132.55,465 136.64,466 140.73,468.1 144.82,468.9 148.91,467.4 153,465.2 157.1,465.7 161.19,464.1 165.28,459.4 169.37,461.9 173.46,458 177.55,461.6 181.64,465.2 185.73,466 189.82,471 193.91,469.6 198,466 202.1,467.4 206.19,468.1 210.28,469.6 214.37,470.3 218.46,468.6 222.55,467.4 226.64,464.2 230.73,465.7 234.82,462.3 238.91,458.7 243,465.2 247.1,462.6 251.19,462.8 255.28,463.8 259.37,466.7 263.46,471.5 267.55,470.3 271.64,468.9 275.73,469.3 279.82,472.5 283.91,474.7 288,477.1 292.1,475.7 296.19,475.8 300.28,465.5 304.37,465.2 308.46,466.3 312.55,477.6 316.64,475 320.73,471.5 324.82,469.3 328.91,469.6 333,467.1 337.1,463.4 341.19,465.2 345.28,465.2 349.37,462 353.46,462.3 357.55,467.7 361.64,468.1 365.73,467.9 369.82,463.8 373.91,463.5 378,463.8 382.1,467.9 386.19,471.8 390.28,472.8 394.37,475.8 398.46,477.6 402.55,477.6 406.64,487.7 410.73,491.4 414.82,484.5 418.91,485.3 423,489.2 427.1,486.3 431.19,488.5 435.28,490.9 439.37,486.3 443.46,481.5 447.55,481.5 451.64,481.2 455.73,479.8 459.82,479.5 463.91,478.9 468,470.8 472.1,474.4 476.19,475.7 480.28,471 484.37,470 488.46,466.7 492.55,462.6 496.64,466.7 500.73,466.7 504.82,466.3 508.91,471.8 513,467.4 517.1,466.7 521.19,463.5 525.28,465.2 529.37,467.7 533.46,464.5 537.55,465.2 541.64,466 545.73,465.3 549.82,464.9 553.91,460.5 558,462 562.1,463 566.19,461.4 570.28,462 574.37,461.7 578.46,463 578.46,488.5 42.55,488.5" fill="#6666ff" clip-path="url(#c440b)"/>
<polyline points="42.55,476.4 46.64,477.1 50.73,481.2 54.82,485.6 58.91,484.8 63,483.8 67.1,483.4 71.19,487.5 75.28,491.1 79.37,487.5 83.46,485.6 87.55,479.8 91.64,478.6 95.73,481.2 99.82,483.4 103.91,483.7 108,483.4 112.1,478.6 116.19,480.8 120.28,479.8 124.37,478.2 128.46,472.2 132.55,465 136.64,466 140.73,468.1 144.82,468.9 148.91,467.4 153,465.2 157.1,465.7 161.19,464.1 165.28,459.4 169.37,461.9 173.46,458 177.55,461.6 181.64,465.2 185.73,466 189.82,471 193.91,469.6 198,466 202.1,467.4 206.19,468.1 210.28,469.6 214.37,470.3 218.46,468.6 222.55,467.4 226.64,464.2 230.73,465.7 234.82,462.3 238.91,458.7 243,465.2 247.1,462.6 251.19,462.8 255.28,463.8 259.37,466.7 263.46,471.5 267.55,470.3 271.64,468.9 275.73,469.3 279.82,472.5 283.91,474.7 288,477.1 292.1,475.7 296.19,475.8 300.28,465.5 304.37,465.2 308.46,466.3 312.55,477.6 316.64,475 320.73,471.5 324.82,469.3 328.91,469.6 333,467.1 337.1,463.4 341.19,465.2 345.28,465.2 349.37,462 353.46,462.3 357.55,467.7 361.64,468.1 365.73,467.9 369.82,463.8 373.91,463.5 378,463.8 382.1,467.9 386.19,471.8 390.28,472.8 394.37,475.8 398.46,477.6 402.55,477.6 406.64,487.7 410.73,491.4 414.82,484.5 418.91,485.3 423,489.2 427.1,486.3 431.19,488.5 435.28,490.9 439.37,486.3 443.46,481.5 447.55,481.5 451.64,481.2 455.73,479.8 459.82,479.5 463.91,478.9 468,470.8 472.1,474.4 476.19,475.7 480.28,471 484.37,470 488.46,466.7 492.55,462.6 496.64,466.7 500.73,466.7 504.82,466.3 508.91,471.8 513,467.4 517.1,466.7 521.19,463.5 525.28,465.2 529.37,467.7 533.46,464.5 537.55,465.2 541.64,466 545.73,465.3 549.82,464.9 553.91,460.5 558,462 562.1,463 566.19,461.4 570.28,462 574.37,461.7 578.46,463" fill="none" stroke="#800080" stroke-width="1.05" stroke-linejoin="round" stroke-linecap="round" />
<g shape-rendering="crispEdges" fill="#000">
<rect x="40" y="30" width="541" height="1"/>
<rect x="40" y="95" width="541" height="1"/>
<rect x="40" y="30" width="1" height="66"/>
<rect x="580" y="30" width="1" height="66"/>
<rect x="40" y="96" width="541" height="1"/>
<rect x="40" y="306" width="541" height="1"/>
<rect x="40" y="96" width="1" height="211"/>
<rect x="580" y="96" width="1" height="211"/>
<rect x="40" y="307" width="541" height="1"/>
<rect x="40" y="372" width="541" height="1"/>
<rect x="40" y="307" width="1" height="66"/>
<rect x="580" y="307" width="1" height="66"/>
<rect x="40" y="373" width="541" height="1"/>
<rect x="40" y="438" width="541" height="1"/>
<rect x="40" y="373" width="1" height="66"/>
<rect x="580" y="373" width="1" height="66"/>
<rect x="40" y="439" width="541" height="1"/>
<rect x="40" y="504" width="541" height="1"/>
<rect x="40" y="439" width="1" height="66"/>
<rect x="580" y="439" width="1" height="66"/>
<rect x="576" y="43" width="5" height="1"/>
<rect x="576" y="60" width="5" height="1"/>
<rect x="576" y="78" width="5" height="1"/>
<rect x="576" y="122" width="5" height="1"/>
<rect x="576" y="159" width="5" height="1"/>
<rect x="576" y="196" width="5" height="1"/>
<rect x="576" y="232" width="5" height="1"/>
<rect x="576" y="269" width="5" height="1"/>
<rect x="576" y="320" width="5" height="1"/>
<rect x="576" y="346" width="5" height="1"/>
<rect x="576" y="386" width="5" height="1"/>
<rect x="576" y="403" width="5" height="1"/>
<rect x="576" y="421" width="5" height="1"/>
<rect x="576" y="452" width="5" height="1"/>
<rect x="576" y="478" width="5" height="1"/>
<rect x="40" y="254" width="5" height="1"/>
<rect x="40" y="280" width="5" height="1"/>
<rect x="42" y="505" width="1" height="3"/>
<rect x="132" y="505" width="1" height="3"/>
<rect x="202" y="505" width="1" height="3"/>
<rect x="279" y="505" width="1" height="3"/>
<rect x="373" y="505" width="1" height="3"/>
<rect x="451" y="505" width="1" height="3"/>
<rect x="537" y="505" width="1" height="3"/>
</g>
<g shape-rendering="crispEdges"><rect x="40" y="330" width="541" height="1" fill="#ff6666"/><rect x="40" y="362" width="541" height="1" fill="#6666ff"/></g>
<g shape-rendering="crispEdges"><rect x="40" y="468" width="541" height="1" fill="#ff6666"/><rect x="40" y="488" width="541" height="1" fill="#6666ff"/></g>
<g shape-rendering="crispEdges">
<rect x="41" y="31" width="538" height="13" fill="#ccccff" fill-opacity="0.58"/>
<rect x="41" y="97" width="538" height="26" fill="#ccccff" fill-opacity="0.58"/>
<rect x="41" y="308" width="538" height="13" fill="#ccccff" fill-opacity="0.58"/>
<rect x="41" y="374" width="538" height="13" fill="#ccccff" fill-opacity="0.58"/>
<rect x="41" y="440" width="538" height="13" fill="#ccccff" fill-opacity="0.58"/>
</g>
<text x="40.8" y="11.4" font-size="13.4" text-anchor="start" font-weight="bold" fill="#000" stroke="none" textLength="64.5" lengthAdjust="spacing">HNX Index</text>
<text y="25.8" font-size="10.8" stroke="#000" xml:space="preserve"><tspan x="39.8" textLength="53.3" lengthAdjust="spacing">15/06/2017</tspan> <tspan x="97.8" textLength="4.7" lengthAdjust="spacing">-</tspan> <tspan x="105.7" textLength="25.3" lengthAdjust="spacing">Daily</tspan> <tspan x="135.5" textLength="26" lengthAdjust="spacing">chart</tspan></text>
<text x="581" y="25.8" font-size="13.4" text-anchor="end" font-weight="bold" fill="#000" stroke="none" textLength="36" lengthAdjust="spacing">VCBS</text>
<rect x="45.5" y="34.5" width="7" height="7" fill="#0000ff" stroke="#000" stroke-width="1" shape-rendering="crispEdges"/>
<text y="41.8" font-size="10.8" stroke="#000" xml:space="preserve"><tspan x="56.5" textLength="30.6" lengthAdjust="spacing">MACD</tspan> <tspan x="92.8" textLength="18.9" lengthAdjust="spacing">(26,</tspan> <tspan x="114.6" textLength="18.9" lengthAdjust="spacing">12):</tspan> <tspan x="139" textLength="20.6" lengthAdjust="spacing">1.79</tspan></text>
<rect x="184.5" y="34.5" width="7" height="7" fill="#ff00ff" stroke="#000" stroke-width="1" shape-rendering="crispEdges"/>
<text y="41.8" font-size="10.8" stroke="#000" xml:space="preserve"><tspan x="195.7" textLength="19.7" lengthAdjust="spacing">EXP</tspan> <tspan x="220.3" textLength="15.5" lengthAdjust="spacing">(9):</tspan> <tspan x="241.3" textLength="26.4" lengthAdjust="spacing">1.597</tspan></text>
<rect x="293.5" y="34.5" width="7" height="7" fill="#007000" stroke="#000" stroke-width="1" shape-rendering="crispEdges"/>
<text y="41.8" font-size="10.8" stroke="#000" xml:space="preserve"><tspan x="304.2" textLength="60.4" lengthAdjust="spacing">Divergence:</tspan> <tspan x="370.4" textLength="32.9" lengthAdjust="spacing">0.1925</tspan></text>
<rect x="45.5" y="100.5" width="7" height="7" fill="#663300" stroke="#000" stroke-width="1" shape-rendering="crispEdges"/>
<text y="107.8" font-size="10.8" stroke="#000" xml:space="preserve"><tspan x="56.5" textLength="23.9" lengthAdjust="spacing">TMA</tspan> <tspan x="83.3" textLength="21.8" lengthAdjust="spacing">(10):</tspan> <tspan x="110.8" textLength="26.5" lengthAdjust="spacing">96.69</tspan></text>
<rect x="162.5" y="100.5" width="7" height="7" fill="#9900ff" stroke="#000" stroke-width="1" shape-rendering="crispEdges"/>
<text y="107.8" font-size="10.8" stroke="#000" xml:space="preserve"><tspan x="173.3" textLength="24.2" lengthAdjust="spacing">TMA</tspan> <tspan x="200.3" textLength="21.9" lengthAdjust="spacing">(25):</tspan> <tspan x="227.9" textLength="26.2" lengthAdjust="spacing">94.07</tspan></text>
<rect x="280.5" y="100.5" width="7" height="7" fill="#000040" stroke="#000" stroke-width="1" shape-rendering="crispEdges"/>
<text y="107.8" font-size="10.8" stroke="#000" xml:space="preserve"><tspan x="290.7" textLength="39.8" lengthAdjust="spacing">Closing</tspan> <tspan x="335.4" textLength="28.8" lengthAdjust="spacing">Price:</tspan> <tspan x="369.1" textLength="26.8" lengthAdjust="spacing">97.78</tspan></text>
<rect x="45.5" y="114.5" width="7" height="7" fill="#9999ff" stroke="#000" stroke-width="1" shape-rendering="crispEdges"/>
<text y="121.8" font-size="10.8" stroke="#000" xml:space="preserve"><tspan x="56.5" textLength="46.5" lengthAdjust="spacing">Bollinger</tspan> <tspan x="107.9" textLength="19.2" lengthAdjust="spacing">(20,</tspan> <tspan x="130.3" textLength="12.5" lengthAdjust="spacing">2):</tspan> <tspan x="148" textLength="26.7" lengthAdjust="spacing">90.94</tspan> <tspan x="179.1" textLength="5.2" lengthAdjust="spacing">-</tspan> <tspan x="187.8" textLength="26.1" lengthAdjust="spacing">98.94</tspan></text>
<rect x="238.5" y="114.5" width="7" height="7" fill="#ff9999" stroke="#000" stroke-width="1" shape-rendering="crispEdges"/>
<text y="121.8" font-size="10.8" stroke="#000" xml:space="preserve"><tspan x="250.6" textLength="18" lengthAdjust="spacing">Vol:</tspan> <tspan x="273.8" textLength="34.9" lengthAdjust="spacing">46.64M</tspan></text>
<rect x="45.5" y="311.5" width="7" height="7" fill="#800080" stroke="#000" stroke-width="1" shape-rendering="crispEdges"/>
<text y="318.8" font-size="10.8" stroke="#000" xml:space="preserve"><tspan x="56.5" textLength="34.9" lengthAdjust="spacing">Money</tspan> <tspan x="95.9" textLength="27.3" lengthAdjust="spacing">Flow</tspan> <tspan x="123.9" textLength="28.5" lengthAdjust="spacing">Index</tspan> <tspan x="157.3" textLength="19.8" lengthAdjust="spacing">(14):</tspan> <tspan x="184.9" textLength="27" lengthAdjust="spacing">71.36</tspan></text>
<rect x="45.5" y="377.5" width="7" height="7" fill="#0000ff" stroke="#000" stroke-width="1" shape-rendering="crispEdges"/>
<text y="384.8" font-size="10.8" stroke="#000" xml:space="preserve"><tspan x="56.5" textLength="55.1" lengthAdjust="spacing">Momentum</tspan> <tspan x="116.5" textLength="22.5" lengthAdjust="spacing">(12):</tspan> <tspan x="143.6" textLength="21.2" lengthAdjust="spacing">4.54</tspan></text>
<rect x="45.5" y="443.5" width="7" height="7" fill="#800080" stroke="#000" stroke-width="1" shape-rendering="crispEdges"/>
<text y="450.8" font-size="10.8" stroke="#000" xml:space="preserve"><tspan x="56.5" textLength="18" lengthAdjust="spacing">RSI</tspan> <tspan x="79.1" textLength="22.1" lengthAdjust="spacing">(14):</tspan> <tspan x="105.8" textLength="27.4" lengthAdjust="spacing">79.42</tspan></text>
<text x="584" y="47.4" font-size="10.8" text-anchor="start" font-weight="normal" fill="#000" stroke="#000">2</text>
<text x="584" y="64.4" font-size="10.8" text-anchor="start" font-weight="normal" fill="#000" stroke="#000">1</text>
<text x="584" y="82.4" font-size="10.8" text-anchor="start" font-weight="normal" fill="#000" stroke="#000">0</text>
<text x="584" y="99.4" font-size="10.8" text-anchor="start" font-weight="normal" fill="#000" stroke="#000">-1</text>
<text x="584" y="126.4" font-size="10.8" text-anchor="start" font-weight="normal" fill="#000" stroke="#000">100</text>
<text x="584" y="163.4" font-size="10.8" text-anchor="start" font-weight="normal" fill="#000" stroke="#000">95</text>
<text x="584" y="200.4" font-size="10.8" text-anchor="start" font-weight="normal" fill="#000" stroke="#000">90</text>
<text x="584" y="236.4" font-size="10.8" text-anchor="start" font-weight="normal" fill="#000" stroke="#000">85</text>
<text x="584" y="273.4" font-size="10.8" text-anchor="start" font-weight="normal" fill="#000" stroke="#000">80</text>
<text x="584" y="310.4" font-size="10.8" text-anchor="start" font-weight="normal" fill="#000" stroke="#000">75</text>
<text x="584" y="350.4" font-size="10.8" text-anchor="start" font-weight="normal" fill="#000" stroke="#000">50</text>
<text x="584" y="390.4" font-size="10.8" text-anchor="start" font-weight="normal" fill="#000" stroke="#000">10</text>
<text x="584" y="407.4" font-size="10.8" text-anchor="start" font-weight="normal" fill="#000" stroke="#000">5</text>
<text x="584" y="425.4" font-size="10.8" text-anchor="start" font-weight="normal" fill="#000" stroke="#000">0</text>
<text x="584" y="442.4" font-size="10.8" text-anchor="start" font-weight="normal" fill="#000" stroke="#000">-5</text>
<text x="584" y="456.4" font-size="10.8" text-anchor="start" font-weight="normal" fill="#000" stroke="#000">100</text>
<text x="584" y="508.4" font-size="10.8" text-anchor="start" font-weight="normal" fill="#000" stroke="#000">0</text>
<text x="584" y="334.4" font-size="10.8" text-anchor="start" font-weight="normal" fill="#ff6666" stroke="#ff6666">80</text>
<text x="584" y="366.4" font-size="10.8" text-anchor="start" font-weight="normal" fill="#6666ff" stroke="#6666ff">20</text>
<text x="584" y="472.4" font-size="10.8" text-anchor="start" font-weight="normal" fill="#ff6666" stroke="#ff6666">70</text>
<text x="584" y="492.4" font-size="10.8" text-anchor="start" font-weight="normal" fill="#6666ff" stroke="#6666ff">30</text>
<text x="36.3" y="258.4" font-size="10.8" text-anchor="end" font-weight="normal" fill="#000" stroke="#000">100M</text>
<text x="36.3" y="284.4" font-size="10.8" text-anchor="end" font-weight="normal" fill="#000" stroke="#000">50M</text>
<text x="36.3" y="310.4" font-size="10.8" text-anchor="end" font-weight="normal" fill="#000" stroke="#000">0M</text>
<text x="42.5" y="517.6" font-size="10.8" text-anchor="middle" font-weight="bold" fill="#000" stroke="none" textLength="35" lengthAdjust="spacing">Dec 16</text>
<text x="132.5" y="517.6" font-size="10.8" text-anchor="middle" font-weight="bold" fill="#000" stroke="none" textLength="34" lengthAdjust="spacing">Jan 17</text>
<text x="202.5" y="517.6" font-size="10.8" text-anchor="middle" font-weight="normal" fill="#000" stroke="#000" textLength="19.5" lengthAdjust="spacing">Feb</text>
<text x="279.5" y="517.6" font-size="10.8" text-anchor="middle" font-weight="normal" fill="#000" stroke="#000" textLength="19.3" lengthAdjust="spacing">Mar</text>
<text x="373.5" y="517.6" font-size="10.8" text-anchor="middle" font-weight="normal" fill="#000" stroke="#000" textLength="16.8" lengthAdjust="spacing">Apr</text>
<text x="451.5" y="517.6" font-size="10.8" text-anchor="middle" font-weight="normal" fill="#000" stroke="#000" textLength="20.5" lengthAdjust="spacing">May</text>
<text x="537.5" y="517.6" font-size="10.8" text-anchor="middle" font-weight="normal" fill="#000" stroke="#000" textLength="17.5" lengthAdjust="spacing">Jun</text>
</svg></body></html>
